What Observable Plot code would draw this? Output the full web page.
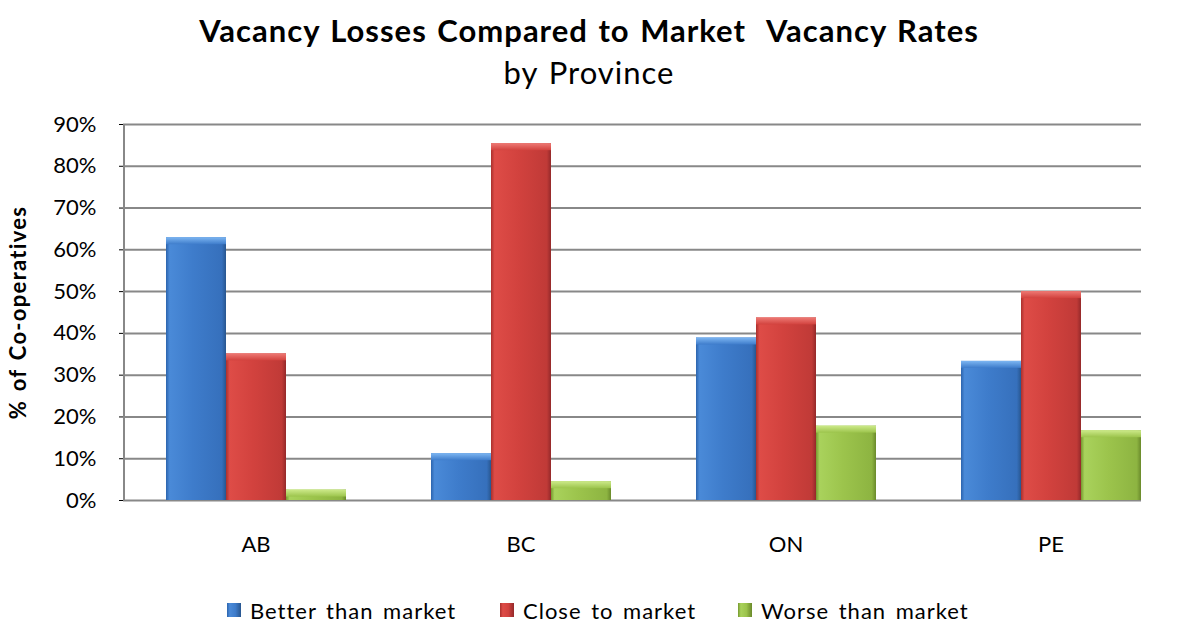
<!DOCTYPE html>
<html><head><meta charset="utf-8">
<script src="https://cdn.jsdelivr.net/npm/d3@7"></script>
<script src="https://cdn.jsdelivr.net/npm/@observablehq/plot@0.6"></script>
<style>
body{margin:0;background:#fff;font-family:Lato,"Open Sans",sans-serif;color:#000;}
#wrap{width:1178px;height:624px;position:relative;overflow:hidden;}
#head{position:relative;height:100px;}
.title{position:absolute;left:0;width:1178px;text-align:center;top:12px;line-height:36px;font-size:31px;font-weight:bold;white-space:pre;letter-spacing:1px;word-spacing:2px;}
.sub{position:absolute;left:0;width:1178px;text-align:center;top:54px;line-height:36px;font-size:31px;letter-spacing:1px;word-spacing:2px;}
#chart svg{display:block;}
#chart g[aria-label="y-axis label"] text{font-weight:bold;font-size:22px;letter-spacing:1.3px;word-spacing:2px;}
#legend{position:relative;height:54px;font-size:22px;letter-spacing:1px;word-spacing:3px;}
.item{position:absolute;top:26px;display:flex;align-items:center;height:28px;white-space:nowrap;}
.sw{width:14px;height:14px;margin-right:9px;}
</style></head><body>
<div id="wrap">
<div id="head">
<div class="title">Vacancy Losses Compared to Market  Vacancy Rates</div>
<div class="sub">by Province</div>
</div>
<div id="chart"></div>
<div id="legend"></div>
</div>
<script>
const provinces = ["AB", "BC", "ON", "PE"];
const seriesNames = ["Better than market", "Close to market", "Worse than market"];
const betterValues = [62.9, 11.2, 38.9, 33.3];
const closeValues = [35.1, 85.4, 43.7, 50.0];
const worseValues = [2.5, 4.5, 17.8, 16.7];
const yTicks = [0, 10, 20, 30, 40, 50, 60, 70, 80, 90];
const gradIds = ["gBetter", "gClose", "gWorse"];
const topIds = ["tBetter", "tClose", "tWorse"];
const grads = [
  ["#2c64ad", "#4a8ad8", "#3e7ccb", "#3670bc", "#28568f"],
  ["#a9302d", "#de4c47", "#d2423e", "#c03a37", "#94292a"],
  ["#76992f", "#a9d25c", "#9cc44c", "#8db441", "#6a8a2b"]
];
const tops = ["#7db6f2", "#ee7a75", "#cdea8a"];
const legendLeft = [227, 500, 738];

const valuesBySeries = [betterValues, closeValues, worseValues];
const table = [];
provinces.forEach((p, i) => seriesNames.forEach((s, j) => table.push({province: p, series: s, value: valuesBySeries[j][i]})));
const grid = provinces.flatMap(p => yTicks.map(t => ({province: p, tick: t})));

const chart = Plot.plot({
  width: 1178,
  height: 470,
  marginTop: 24,
  marginBottom: 70,
  marginLeft: 123,
  marginRight: -5,
  style: {fontSize: "22px", fontFamily: "Lato, 'Open Sans', sans-serif", color: "#000", background: "transparent"},
  fx: {domain: provinces, paddingInner: 0, paddingOuter: 0, axis: "bottom", tickSize: 0, tickPadding: 36, label: null},
  x: {domain: seriesNames, paddingInner: 0, paddingOuter: 0.708, axis: null},
  y: {domain: [0, 90], ticks: yTicks, tickFormat: d => d + "%", label: "% of Co-operatives", labelArrow: "none", labelAnchor: "center", labelOffset: 113, tickSize: 4, tickPadding: 23},
  color: {domain: seriesNames, range: gradIds.map(id => `url(#${id})`)},
  marks: [
    Plot.ruleY(grid.filter(d => d.province !== "PE"), {fx: "province", y: "tick", stroke: "#888888", strokeWidth: 2}),
    Plot.ruleY(grid.filter(d => d.province === "PE"), {fx: "province", y: "tick", stroke: "#888888", strokeWidth: 2, insetRight: 42}),
    Plot.barY([{province: "AB"}], {fx: "province", y1: 0, y2: 90, fill: "#888888", insetRight: 263}),
    Plot.barY(table, {fx: "province", x: "series", y: "value", fill: "series"}),
    Plot.barY(table, {fx: "province", x: "series", y1: "value", y2: "value", insetBottom: -7, fill: d => "url(#" + topIds[seriesNames.indexOf(d.series)] + ")"})
  ]
});

// gradient definitions
const ns = "http://www.w3.org/2000/svg";
const defs = document.createElementNS(ns, "defs");
function addGrad(id, stops, vertical) {
  const g = document.createElementNS(ns, "linearGradient");
  g.setAttribute("id", id);
  if (vertical) { g.setAttribute("x1", "0"); g.setAttribute("y1", "0"); g.setAttribute("x2", "0"); g.setAttribute("y2", "1"); }
  stops.forEach(([o, c]) => {
    const s = document.createElementNS(ns, "stop");
    s.setAttribute("offset", o);
    s.setAttribute("stop-color", c);
    g.appendChild(s);
  });
  defs.appendChild(g);
}
grads.forEach((c, i) => addGrad(gradIds[i], [[0, c[0]], [0.06, c[1]], [0.45, c[2]], [0.93, c[3]], [1, c[4]]]));
tops.forEach((c, i) => addGrad(topIds[i], [[0, c], [1, grads[i][2]]], true));
chart.insertBefore(defs, chart.firstChild);
const yl = chart.querySelector('g[aria-label="y-axis label"] text');
if (yl) yl.textContent = "% of Co-operatives";
document.getElementById("chart").appendChild(chart);

// legend
const legend = document.getElementById("legend");
seriesNames.forEach((s, i) => {
  const it = document.createElement("div");
  it.className = "item";
  it.style.left = legendLeft[i] + "px";
  const sw = document.createElement("div");
  sw.className = "sw";
  sw.style.background = `linear-gradient(90deg, ${grads[i][0]}, ${grads[i][1]} 20%, ${grads[i][2]} 60%, ${grads[i][4]})`;
  const tx = document.createElement("span");
  tx.textContent = s;
  it.appendChild(sw); it.appendChild(tx);
  legend.appendChild(it);
});
</script>
</body></html>
